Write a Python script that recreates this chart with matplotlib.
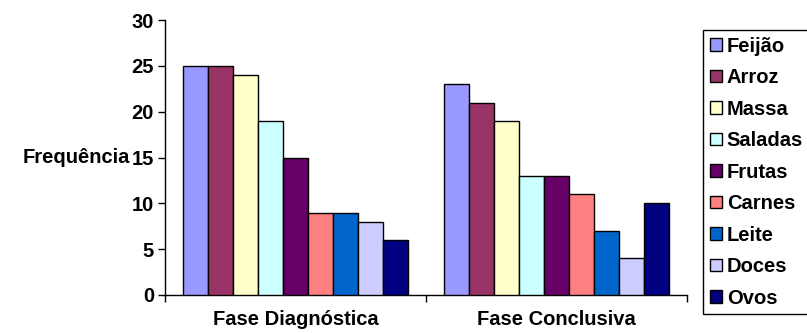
import matplotlib
matplotlib.use("Agg")
import matplotlib.pyplot as plt
import numpy as np
from matplotlib.patches import Patch

phases = ["Fase Diagnóstica", "Fase Conclusiva"]
foods = ["Feijão", "Arroz", "Massa", "Saladas", "Frutas", "Carnes", "Leite", "Doces", "Ovos"]
diagnostica = [25, 25, 24, 19, 15, 9, 9, 8, 6]
conclusiva = [23, 21, 19, 13, 13, 11, 7, 4, 10]
colors = ["#9999FF", "#993366", "#FFFFCC", "#CCFFFF", "#660066",
          "#FF8080", "#0066CC", "#CCCCFF", "#000080"]
yticks = [0, 5, 10, 15, 20, 25, 30]

plt.rcParams['font.family'] = ['Liberation Sans', 'DejaVu Sans']
plt.rcParams['font.weight'] = 'bold'
FS = 14.5

fig = plt.figure(figsize=(8.07, 3.33), dpi=100)
ax = fig.add_axes([165/807, 1-295/333, 522/807, 275/333])

x = np.arange(len(phases))
n = len(foods)
w = 0.862 / n
for i, (food, col) in enumerate(zip(foods, colors)):
    vals = [diagnostica[i], conclusiva[i]]
    ax.bar(x + (i - (n - 1) / 2) * w, vals, width=w, color=col,
           edgecolor='black', linewidth=1.0, label=food, zorder=3)

ax.set_xlim(-0.5, 1.5)
ax.set_ylim(0, 30)
ax.set_yticks(yticks)
ax.set_yticklabels([str(t) for t in yticks], fontsize=FS, fontweight='bold')
ax.set_xticks(x)
ax.set_xticklabels(phases, fontsize=FS, fontweight='bold')
ax.set_xticks([-0.5, 0.5, 1.5], minor=True)
ax.tick_params(axis='x', which='major', length=0, pad=11)
ax.tick_params(axis='x', which='minor', length=5, width=1, direction='out')
ax.tick_params(axis='y', length=5, width=1, direction='out', pad=3)

for s in ['top', 'right']:
    ax.spines[s].set_visible(False)
for s in ['left', 'bottom']:
    ax.spines[s].set_linewidth(1.0)
    ax.spines[s].set_color('black')

ax.set_ylabel('Frequência', rotation=0, ha='right', va='center',
              fontsize=FS, fontweight='bold')
ax.yaxis.set_label_coords(-0.068, 0.5)

handles = [Patch(facecolor=c, edgecolor='black', linewidth=1.0) for c in colors]
leg = fig.legend(handles, foods, loc='upper left',
                 bbox_to_anchor=(703/807, 1-30/333), frameon=True,
                 fancybox=False, edgecolor='black', framealpha=1,
                 prop={'size': FS, 'weight': 'bold'},
                 handlelength=0.6, handleheight=0.6, handletextpad=0.25,
                 labelspacing=0.62, borderpad=0.33, borderaxespad=0)
leg.get_frame().set_linewidth(1.0)

fig.savefig("out.png", dpi=100)
